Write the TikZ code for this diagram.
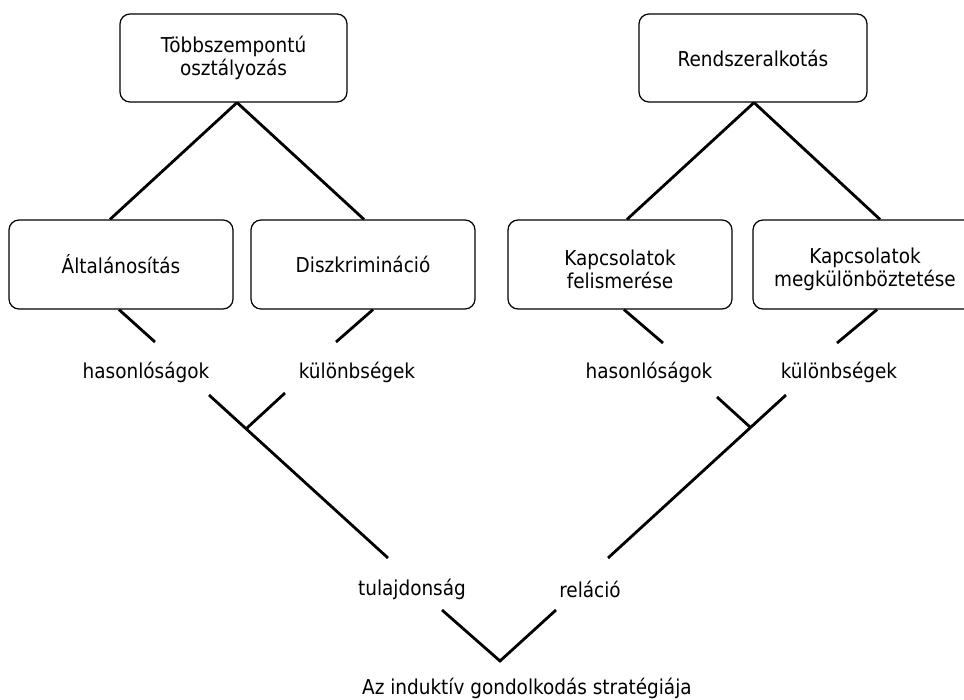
\documentclass[tikz,border=0pt]{standalone}
\usepackage{fontspec}
\setmainfont{DejaVu Sans Condensed}
\begin{document}
\begin{tikzpicture}[x=1pt,y=-1pt,
  box/.style={draw=black,line width=1.2pt,rounded corners=10pt,minimum width=#1,minimum height=89pt,align=center,inner sep=0pt,font=\fontsize{20.5}{23}\selectfont},
  box/.default=224pt,
  lbl/.style={inner sep=0pt,font=\fontsize{20.5}{23}\selectfont},
  conn/.style={line width=2.8pt}]
\useasboundingbox (0,0) rectangle (964,700);
\clip (0,0) rectangle (964,700);
% boxes
\node[box=227pt,minimum height=88pt] (tobb) at (233.5,58) {Többszempontú\\osztályozás};
\node[box=228pt,minimum height=88pt] (rend) at (753,58) {Rendszeralkotás};
\node[box] (alt) at (121,264.5) {Általánosítás};
\node[box] (disz) at (363,264.5) {Diszkrimináció};
\node[box] (kfel) at (620,264.5) {\rule{0pt}{26pt}Kapcsolatok\\felismerése};
\node[box] (kmeg) at (865,264.5) {\rule{0pt}{26pt}Kapcsolatok\\megkülönböztetése};
% labels
\node[lbl] (has1) at (146,372) {hasonlóságok};
\node[lbl] (kul1) at (357,372) {különbségek};
\node[lbl] (has2) at (649,372) {hasonlóságok};
\node[lbl] (kul2) at (839,372) {különbségek};
\node[lbl] (tul) at (412,589) {tulajdonság};
\node[lbl] (rel) at (590,589) {reláció};
\node[lbl] (az) at (527,688) {Az induktív gondolkodás stratégiája};
% free ends and junctions
\coordinate (a1) at (155,342);
\coordinate (d1) at (336,342);
\coordinate (f1) at (663,343);
\coordinate (m1) at (837,343);
\coordinate (ls) at (209,395);
\coordinate (le) at (388,558);
\coordinate (lbs) at (285,393);
\coordinate (lbj) at (247,428);
\coordinate (rs) at (786,395);
\coordinate (re) at (608,558);
\coordinate (rbs) at (717,397);
\coordinate (rbj) at (750,427);
\coordinate (vl) at (442,610);
\coordinate (vb) at (500,661);
\coordinate (vr) at (556,610);
% connectors
\draw[conn] ([xshift=3.5pt]tobb.south) -- ([xshift=-11pt]alt.north);
\draw[conn] ([xshift=3.5pt]tobb.south) -- ([xshift=1pt]disz.north);
\draw[conn] ([xshift=1pt]rend.south) -- ([xshift=7pt]kfel.north);
\draw[conn] ([xshift=1pt]rend.south) -- ([xshift=15pt]kmeg.north);
\draw[conn] ([xshift=-2pt]alt.south) -- (a1);
\draw[conn] ([xshift=10pt]disz.south) -- (d1);
\draw[conn] ([xshift=4pt]kfel.south) -- (f1);
\draw[conn] ([xshift=12pt]kmeg.south) -- (m1);
\draw[conn] (ls) -- (le);
\draw[conn] (lbs) -- (lbj);
\draw[conn] (rs) -- (re);
\draw[conn] (rbs) -- (rbj);
\draw[conn] (vl) -- (vb) -- (vr);
\end{tikzpicture}
\end{document}
